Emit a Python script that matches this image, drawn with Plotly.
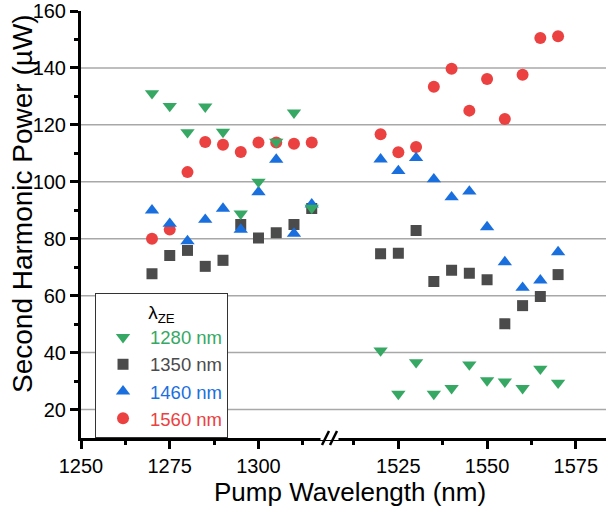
import plotly.graph_objects as go

# ---------------- data ----------------
pump_left = [1270, 1275, 1280, 1285, 1290, 1295, 1300, 1305, 1310, 1315]
pump_right = [1520, 1525, 1530, 1535, 1540, 1545, 1550, 1555, 1560, 1565, 1570]

shg_1280_left = [131.1, 126.6, 117.4, 126.4, 117.5, 88.8, 100.0, 114.0, 124.3, 90.8]
shg_1350_left = [67.7, 74.1, 75.9, 70.3, 72.4, 85.0, 80.3, 82.1, 85.0, 90.6]
shg_1460_left = [90.0, 85.3, 79.2, 86.7, 90.6, 83.2, 96.4, 107.8, 81.8, 92.1]
shg_1560_left = [80.0, 83.2, 103.4, 114.0, 113.0, 110.5, 113.8, 113.8, 113.4, 113.8]

shg_1280_right = [40.7, 25.5, 36.6, 25.5, 27.5, 35.8, 30.2, 29.8, 27.5, 34.3, 29.4]
shg_1350_right = [74.7, 74.9, 82.9, 65.0, 68.9, 67.9, 65.6, 50.1, 56.5, 59.7, 67.4]
shg_1460_right = [107.9, 103.8, 108.4, 100.9, 94.6, 96.6, 84.1, 71.8, 62.8, 65.4, 75.3]
shg_1560_right = [116.7, 110.4, 112.2, 133.4, 139.7, 125.0, 136.1, 122.1, 137.6, 150.5, 151.1]

series_names = ["1280 nm", "1350 nm", "1460 nm", "1560 nm"]
y_ticks = [20, 40, 60, 80, 100, 120, 140, 160]
grid_values = [20, 40, 60, 80, 100, 120, 140]
x_ticks_left = [1250, 1275, 1300]
x_ticks_right = [1525, 1550, 1575]

# ---------------- style ----------------
FONT = "Arial, Liberation Sans, sans-serif"
colors = {"1280 nm": "#36a864", "1350 nm": "#4b4b4b", "1460 nm": "#1a6fdf", "1560 nm": "#ec4141"}
symbols = {"1280 nm": "triangle-down", "1350 nm": "square", "1460 nm": "triangle-up", "1560 nm": "circle"}
sizes = {"1280 nm": 12.5, "1350 nm": 11, "1460 nm": 12.5, "1560 nm": 12}

data = {
    "1280 nm": (shg_1280_left, shg_1280_right),
    "1350 nm": (shg_1350_left, shg_1350_right),
    "1460 nm": (shg_1460_left, shg_1460_right),
    "1560 nm": (shg_1560_left, shg_1560_right),
}

fig = go.Figure()
draw_order = ["1560 nm", "1350 nm", "1460 nm", "1280 nm"]
for name in draw_order:
    yl, yr = data[name]
    rank = series_names.index(name) + 1
    marker = dict(symbol=symbols[name], color=colors[name], size=sizes[name], line=dict(width=0))
    fig.add_trace(go.Scatter(
        x=pump_left, y=yl, mode="markers", marker=marker, xaxis="x", yaxis="y",
        name=f"<span style='color:{colors[name]}'>{name}</span>", legendrank=rank,
        showlegend=True))
    fig.add_trace(go.Scatter(
        x=pump_right, y=yr, mode="markers", marker=marker, xaxis="x2", yaxis="y",
        name=name, showlegend=False))

split = 0.4733
axis_common = dict(
    showline=True, linecolor="black", linewidth=2.5, ticks="outside", ticklen=8,
    tickwidth=2.5, tickcolor="black", showgrid=False, zeroline=False,
    tickfont=dict(family=FONT, size=20, color="black"),
    minor=dict(ticks="outside", ticklen=4, tickwidth=2.5, tickcolor="black", dtick=12.5),
    fixedrange=True,
)
fig.update_layout(
    width=606, height=510,
    margin=dict(l=81, r=0, t=11, b=72),
    plot_bgcolor="white", paper_bgcolor="white",
    xaxis=dict(domain=[0, split], range=[1250, 1320], tickvals=x_ticks_left,
               anchor="y", **axis_common),
    xaxis2=dict(domain=[split, 1], range=[1505.6, 1583.5], tickvals=x_ticks_right,
                anchor="y", **axis_common),
    yaxis=dict(range=[10, 160], tickvals=y_ticks, showline=True, linecolor="black",
               linewidth=3, ticks="outside", ticklen=8, tickwidth=2.5, tickcolor="black",
               showgrid=False, zeroline=False,
               tickfont=dict(family=FONT, size=20, color="black"),
               minor=dict(ticks="outside", ticklen=4, tickwidth=2.5, tickcolor="black",
                          tickvals=[30, 50, 70, 90, 110, 130, 150]),
               anchor="x"),
    legend=dict(
        x=0.0267, y=0.3396, xanchor="left", yanchor="top",
        bgcolor="white", bordercolor="#333333", borderwidth=1,
        font=dict(family=FONT, size=18.5, color="black"),
        title=dict(text="λ<sub>ZE</sub>", side="top center",
                   font=dict(family=FONT, size=19, color="black")),
        itemwidth=44, tracegroupgap=0,
    ),
    showlegend=True,
)

# horizontal grid lines
for v in grid_values:
    fig.add_shape(type="line", xref="paper", yref="y", x0=0, x1=1, y0=v, y1=v,
                  line=dict(color="#a8a8a8", width=1.5), layer="below")

# axis break marker
fig.add_shape(type="rect", xref="paper", yref="paper", xsizemode="pixel", ysizemode="pixel",
              xanchor=split, yanchor=0, x0=-9, x1=9, y0=-2, y1=2,
              fillcolor="white", line=dict(width=0), layer="above")
for dx in (-4, 4):
    fig.add_shape(type="line", xref="paper", yref="paper", xsizemode="pixel", ysizemode="pixel",
                  xanchor=split, yanchor=0, x0=dx - 3.5, y0=-7, x1=dx + 3.5, y1=7,
                  line=dict(color="black", width=2.5), layer="above")

# axis titles
fig.add_annotation(text="Pump Wavelength (nm)", xref="paper", yref="paper",
                   x=0.513, y=0, yshift=-54, xanchor="center", yanchor="middle",
                   showarrow=False, font=dict(family=FONT, size=26, color="black"))
fig.add_annotation(text="Second Harmonic Power (µW)", xref="paper", yref="paper",
                   x=0, xshift=-59, y=0.548, xanchor="center", yanchor="middle",
                   textangle=-90, showarrow=False,
                   font=dict(family=FONT, size=28, color="black"))

fig.write_html("out.html")
